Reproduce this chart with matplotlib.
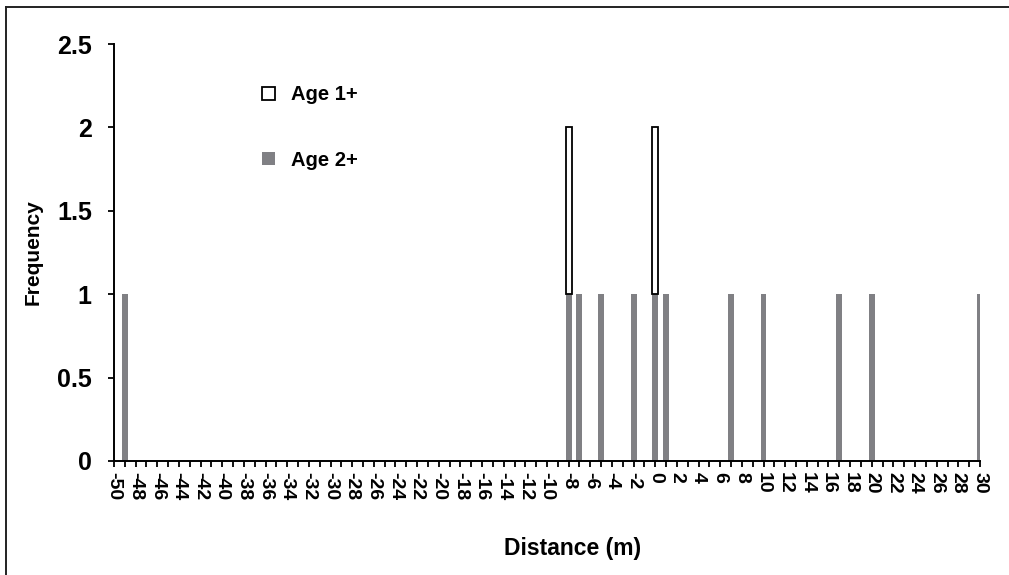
import matplotlib
matplotlib.use('Agg')
import matplotlib.pyplot as plt
from matplotlib.patches import Patch
from matplotlib.lines import Line2D
import numpy as np

plt.rcParams['font.family'] = ['Liberation Sans', 'DejaVu Sans']
plt.rcParams['font.weight'] = 'bold'

# distance categories shown on the axis (-50 ... 30 m)
dist_min, dist_max = -50, 30

# Age 2+ counts by distance
age2_dist = [-49, -8, -7, -5, -2, 0, 1, 7, 10, 17, 20, 30]
age2_freq = [1, 1, 1, 1, 1, 1, 1, 1, 1, 1, 1, 1]

# Age 1+ counts by distance (stacked on top of Age 2+)
age1_dist = [-8, 0]
age1_freq = [1, 1]

gray = '#808084'

fig = plt.figure(figsize=(10.09, 5.75), dpi=100)
ax = fig.add_axes([114/1009, 1-461/575, (980-114)/1009, (461-44)/575])

lookup = dict(zip(age2_dist, age2_freq))
bottoms = [lookup.get(d, 0) for d in age1_dist]

w = 0.55
ax.bar(age2_dist, age2_freq, width=w, color=gray, edgecolor='none', zorder=2)
ax.bar(age1_dist, age1_freq, width=w, bottom=bottoms, color='white',
       edgecolor='black', linewidth=1.3, zorder=3)

ax.set_xlim(dist_min, dist_max)
ax.set_ylim(0, 2.5)

ticks = list(range(dist_min, dist_max + 1))
ax.set_xticks(ticks)
ax.set_xticklabels([str(t) if t % 2 == 0 else '' for t in ticks],
                   rotation=-90, fontsize=14, fontweight='bold')
ax.set_yticks([0, 0.5, 1, 1.5, 2, 2.5])
ax.set_yticklabels(['0', '0.5', '1', '1.5', '2', '2.5'], fontsize=18, fontweight='bold')

ax.tick_params(axis='x', direction='out', length=4, width=1.3, pad=4)
ax.tick_params(axis='y', direction='out', length=4, width=1.3, pad=12)

for s in ['top', 'right']:
    ax.spines[s].set_visible(False)
for s in ['left', 'bottom']:
    ax.spines[s].set_linewidth(1.4)
ax.spines['left'].set_zorder(5)
ax.spines['bottom'].set_zorder(5)

ax.set_ylabel('Frequency', fontsize=15, fontweight='bold', labelpad=10)
fig.text(573/1009, 1-548/575, 'Distance (m)', fontsize=16.5, fontweight='bold',
         ha='center', va='center')

handles = [Patch(facecolor='white', edgecolor='black', linewidth=1.3, label='Age 1+'),
           Patch(facecolor=gray, edgecolor='none', label='Age 2+')]
ax.legend(handles=handles, loc='upper left', bbox_to_anchor=(0.15, 0.944),
          frameon=False, handlelength=0.65, handleheight=0.65,
          handletextpad=0.8, labelspacing=2.3, prop={'weight': 'bold', 'size': 14.5})

# outer frame lines (top and left)
fig.add_artist(Line2D([5.5/1009, 5.5/1009], [0, 1-6.5/575], transform=fig.transFigure,
                      color='#222222', linewidth=1.4))
fig.add_artist(Line2D([5.5/1009, 1], [1-6.5/575, 1-6.5/575], transform=fig.transFigure,
                      color='#222222', linewidth=1.4))

fig.savefig('out.png', dpi=100)
